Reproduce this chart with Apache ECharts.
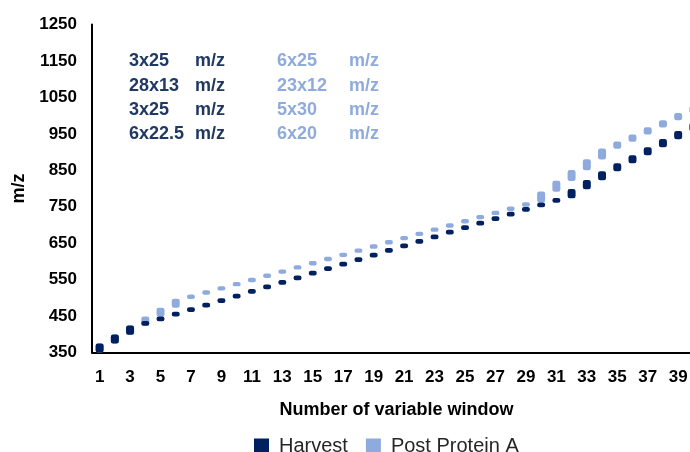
<!DOCTYPE html>
<html><head><meta charset="utf-8">
<script src="https://cdn.jsdelivr.net/npm/echarts@6/dist/echarts.min.js"></script>
<style>html,body{margin:0;padding:0;background:#fff}#c{width:690px;height:452px}</style>
</head><body><div id="c"></div>
<script>
const categories = ['1','2','3','4','5','6','7','8','9','10','11','12','13','14','15','16','17','18','19','20',
  '21','22','23','24','25','26','27','28','29','30','31','32','33','34','35','36','37','38','39','40'];
const harvestLow = [350, 374.5, 399, 423.5, 436, 448.5, 461, 473.5, 486, 498.5, 511, 523.5, 536, 548.5, 561, 573.5, 586, 598.5, 611, 623.5,
  636, 648.5, 661, 673.5, 686, 698.5, 711, 723.5, 736, 748.5, 761, 773.5, 798, 822.5, 847, 869, 891, 913, 935, 957];
const harvestHigh = [375, 399.5, 424, 436.5, 449, 461.5, 474, 486.5, 499, 511.5, 524, 536.5, 549, 561.5, 574, 586.5, 599, 611.5, 624, 636.5,
  649, 661.5, 674, 686.5, 699, 711.5, 724, 736.5, 749, 761.5, 774, 798.5, 823, 847.5, 869.5, 891.5, 913.5, 935.5, 957.5, 979.5];
const ppaLow = [350, 374.5, 399, 423.5, 448, 472.5, 497, 508.5, 520, 531.5, 543, 554.5, 566, 577.5, 589, 600.5, 612, 623.5, 635, 646.5,
  658, 669.5, 681, 692.5, 704, 715.5, 727, 738.5, 750, 761.5, 791, 820.5, 850, 879.5, 909, 928.5, 948, 967.5, 987, 1006.5];
const ppaHigh = [375, 399.5, 424, 448.5, 473, 497.5, 509, 520.5, 532, 543.5, 555, 566.5, 578, 589.5, 601, 612.5, 624, 635.5, 647, 658.5,
  670, 681.5, 693, 704.5, 716, 727.5, 739, 750.5, 762, 791.5, 821, 850.5, 880, 909.5, 929, 948.5, 968, 987.5, 1007, 1026.5];
const harvestScheme = ['3x25', '28x13', '3x25', '6x22.5'];
const ppaScheme = ['6x25', '23x12', '5x30', '6x20'];
const seriesNames = ['Harvest', 'Post Protein A'];

const DARK = '#002060', LIGHT = '#8FAADC';
const FONT = '"Liberation Sans", Arial, sans-serif';
const chart = echarts.init(document.getElementById('c'));

const graphics = [];
const rowY = [61.5, 85.7, 109.9, 134.1];
harvestScheme.forEach((t, i) => {
  graphics.push({type:'text', x:129, y:rowY[i], style:{text:t, fill:'#1F3864', font:'bold 18px ' + FONT, verticalAlign:'middle'}});
  graphics.push({type:'text', x:195, y:rowY[i], style:{text:'m/z', fill:'#1F3864', font:'bold 18px ' + FONT, verticalAlign:'middle'}});
});
ppaScheme.forEach((t, i) => {
  graphics.push({type:'text', x:277, y:rowY[i], style:{text:t, fill:LIGHT, font:'bold 18px ' + FONT, verticalAlign:'middle'}});
  graphics.push({type:'text', x:349, y:rowY[i], style:{text:'m/z', fill:LIGHT, font:'bold 18px ' + FONT, verticalAlign:'middle'}});
});

function span(hi, lo) { return hi.map((v, i) => +(v - lo[i]).toFixed(2)); }
const common = {type:'bar', barWidth:8, barGap:'-100%', animation:false};

chart.setOption({
  animation:false,
  textStyle:{fontFamily:FONT},
  grid:{left:92, right:-11, top:24.5, bottom:99.5, containLabel:false, outerBoundsMode:'none'},
  legend:{
    data:seriesNames, left:249, top:431, itemWidth:13, itemHeight:13, itemGap:18, icon:'rect',
    textStyle:{fontSize:20, color:'#262626', fontFamily:FONT, padding:[0,0,0,6]}
  },
  xAxis:{
    type:'category', data:categories,
    name:'Number of variable window', nameLocation:'middle', nameGap:49,
    nameTextStyle:{fontSize:18, fontWeight:'bold', color:'#000', fontFamily:FONT},
    axisLine:{lineStyle:{color:'#000', width:2}},
    axisTick:{show:false},
    axisLabel:{interval:1, fontSize:17, fontWeight:'bold', color:'#000', margin:16, fontFamily:FONT}
  },
  yAxis:{
    type:'value', min:350, max:1250, interval:100,
    name:'m/z', nameLocation:'middle', nameGap:58, nameRotate:90,
    nameTextStyle:{fontSize:18, fontWeight:'bold', color:'#000', fontFamily:FONT},
    axisLine:{show:true, lineStyle:{color:'#000', width:2}},
    axisTick:{show:false},
    splitLine:{show:false},
    axisLabel:{fontSize:17, fontWeight:'bold', color:'#000', margin:15, fontFamily:FONT, formatter:v => String(v)}
  },
  graphic:graphics,
  series:[
    Object.assign({}, common, {name:'ppaBase', stack:'p', silent:true, itemStyle:{color:'transparent'}, data:ppaLow}),
    Object.assign({}, common, {name:'Post Protein A', stack:'p', itemStyle:{color:LIGHT, borderColor:LIGHT, borderWidth:1.5, borderRadius:1.5}, data:span(ppaHigh, ppaLow)}),
    Object.assign({}, common, {name:'harvestBase', stack:'h', silent:true, itemStyle:{color:'transparent'}, data:harvestLow}),
    Object.assign({}, common, {name:'Harvest', stack:'h', itemStyle:{color:DARK, borderColor:DARK, borderWidth:1.5, borderRadius:1.5}, data:span(harvestHigh, harvestLow)})
  ]
});
</script>
</body></html>
